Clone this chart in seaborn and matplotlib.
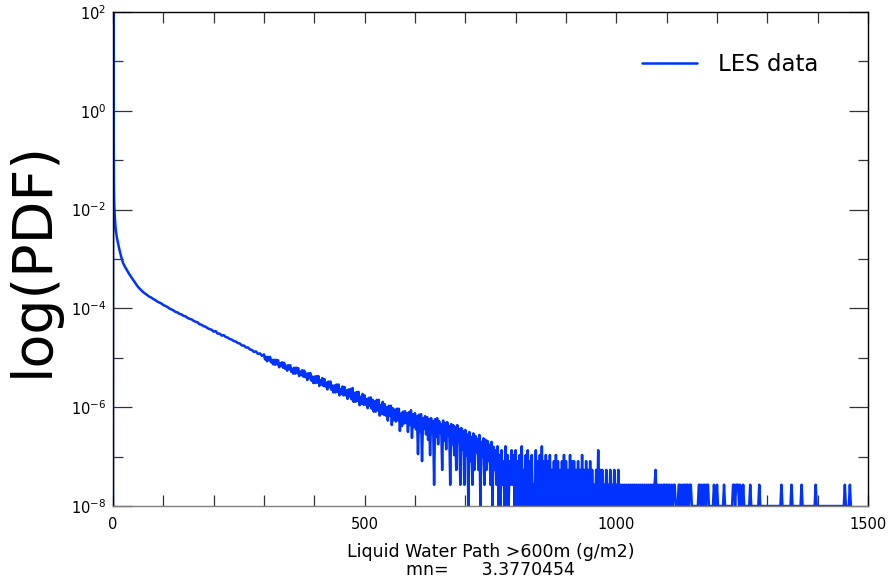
import numpy as np
import pandas as pd
import seaborn as sns
import matplotlib
matplotlib.use("Agg")
import matplotlib.pyplot as plt
from matplotlib.ticker import FixedLocator, FuncFormatter, MultipleLocator, NullFormatter

# spike near zero: liquid water path (g/m2) and log10(pdf)
lwp_head = [0, 0.5, 1, 1.5, 2, 2.5, 3, 4, 5, 6, 8, 10, 13, 16, 20]
logpdf_head = [-8, 2.6, 0.75, -0.6, -1.5, -1.85, -2.0, -2.2, -2.35, -2.45,
               -2.58, -2.68, -2.82, -2.94, -3.08]

# smooth part, every 4 g/m2 from 24 to 296
logpdf_body = [
    -3.16, -3.23, -3.30, -3.36, -3.42, -3.48, -3.54, -3.59, -3.63, -3.67,
    -3.70, -3.73, -3.76, -3.78, -3.81, -3.83, -3.86, -3.88, -3.90, -3.93,
    -3.95, -3.97, -4.00, -4.02, -4.04, -4.07, -4.08, -4.11, -4.12, -4.15,
    -4.16, -4.19, -4.21, -4.22, -4.25, -4.27, -4.28, -4.32, -4.33, -4.36,
    -4.37, -4.40, -4.42, -4.43, -4.47, -4.46, -4.51, -4.51, -4.55, -4.54,
    -4.58, -4.59, -4.62, -4.63, -4.66, -4.67, -4.70, -4.71, -4.75, -4.75,
    -4.79, -4.79, -4.83, -4.84, -4.88, -4.87, -4.92, -4.91, -4.96,
]

# noisy part, every 2 g/m2 from 300 to 758 (-8 = empty bin)
logpdf_noisy = [
    -4.93, -5.03, -4.98, -5.07, -4.98, -5.05, -4.98, -5.09, -5.04, -5.13,
    -5.04, -5.14, -5.04, -5.13, -5.05, -5.19, -5.11, -5.17, -5.09, -5.20,
    -5.10, -5.22, -5.16, -5.26, -5.15, -5.23, -5.15, -5.28, -5.22, -5.32,
    -5.20, -5.32, -5.20, -5.31, -5.21, -5.37, -5.28, -5.35, -5.25, -5.38,
    -5.26, -5.39, -5.32, -5.45, -5.31, -5.41, -5.31, -5.46, -5.38, -5.51,
    -5.38, -5.51, -5.37, -5.50, -5.37, -5.57, -5.45, -5.54, -5.41, -5.57,
    -5.43, -5.58, -5.50, -5.64, -5.48, -5.59, -5.48, -5.65, -5.56, -5.70,
    -5.56, -5.70, -5.54, -5.69, -5.54, -5.76, -5.63, -5.73, -5.58, -5.76,
    -5.59, -5.76, -5.66, -5.83, -5.64, -5.78, -5.63, -5.84, -5.61, -5.89,
    -5.71, -5.89, -5.69, -5.87, -5.69, -5.96, -5.79, -5.93, -5.73, -5.95,
    -5.76, -5.95, -5.84, -6.02, -5.81, -5.97, -5.80, -6.03, -5.85, -6.09,
    -5.88, -6.09, -5.85, -6.06, -5.85, -6.17, -5.96, -6.13, -5.89, -6.15,
    -5.94, -6.17, -6.00, -6.27, -5.97, -6.17, -5.97, -6.36, -6.02, -6.26,
    -6.05, -6.29, -6.03, -6.26, -6.03, -6.48, -6.13, -6.38, -6.09, -6.33,
    -6.08, -6.32, -6.12, -6.50, -6.10, -6.36, -6.06, -6.62, -6.14, -6.40,
    -6.12, -6.45, -6.18, -6.95, -6.15, -6.50, -6.14, -7.09, -6.22, -6.44,
    -6.18, -6.55, -6.20, -6.66, -6.24, -6.97, -6.22, -6.50, -6.28, -7.57,
    -6.24, -6.60, -6.22, -6.75, -6.28, -6.52, -6.34, -7.27, -6.27, -6.68,
    -6.32, -6.85, -6.30, -6.58, -6.38, -7.57, -6.34, -6.75, -6.36, -6.97,
    -6.40, -7.27, -6.36, -6.70, -6.44, -7.57, -6.42, -6.85, -6.48, -7.57,
    -6.46, -6.97, -6.55, -8.00, -6.50, -7.09, -6.60, -7.57, -6.53, -7.27,
    -6.58, -6.92, -6.64, -7.27, -6.56, -8.00, -6.70, -7.00, -6.63, -7.57,
    -6.66, -7.27, -6.68, -7.09, -6.76, -7.57, -6.70, -8.00, -6.80, -7.27,
]

# far tail as bin counts, every 2 g/m2 from 760 to 1466
tail_counts = (
    "5160405130" "6040315140" "5030406020" "4050304010" "5030406030"
    "4030402030" "4030203040" "3020403030" "2030204020" "3020302010"
    "2050202010" "2010201020" "1020101010" "1010101010" "1010101010"
    "1010101012" "01010101" "101101" "0" "1011" "000" "110101" "101101" "1" "00000"
    "00" "1101011011" "00000" "1001" "00000" "010" "0000000" "1101110100" "1000"
    "00" "010" "000000" "01" "000000000000000000000" "10" "0000000" "01" "00000"
    "0000" "10" "00000000000" "01" "000000000000000000000000000" "0" "10" "00" "01" "0"
)
count_unit = 2.7e-8
ymin, ymax = 1e-8, 1e2

lwp_body = np.arange(24, 300, 4)
lwp_noisy = np.arange(300, 760, 2)
counts = np.array([int(c) for c in tail_counts])
lwp_tail = np.arange(760, 760 + 2 * len(counts), 2)

pdf_tail = np.where(counts > 0, counts * count_unit, ymin)
df = pd.DataFrame({
    "lwp": np.concatenate([lwp_head, lwp_body, lwp_noisy, lwp_tail]),
    "pdf": np.concatenate([10.0 ** np.array(logpdf_head), 10.0 ** np.array(logpdf_body),
                           10.0 ** np.array(logpdf_noisy), pdf_tail]),
})

sns.set_style("ticks")
plt.rcParams["font.family"] = ["DejaVu Sans"]
plt.rcParams["text.color"] = "black"
plt.rcParams["axes.labelcolor"] = "black"

fig = plt.figure(figsize=(8.93, 5.81), dpi=100)
ax = fig.add_axes([0.1265, 0.129, 0.8455, 0.8503])

blue = "#0033ff"
sns.lineplot(data=df, x="lwp", y="pdf", color=blue, linewidth=1.8, estimator=None,
             sort=False, label="LES data", ax=ax)

ax.set_yscale("log")
ax.set_xlim(0, 1500)
ax.set_ylim(ymin, ymax)

ax.yaxis.set_major_locator(FixedLocator([1e-8, 1e-6, 1e-4, 1e-2, 1e0, 1e2]))
ax.yaxis.set_minor_locator(FixedLocator([1e-7, 1e-5, 1e-3, 1e-1, 1e1]))
ax.yaxis.set_major_formatter(FuncFormatter(lambda v, p: r"$10^{%d}$" % round(np.log10(v))))
ax.yaxis.set_minor_formatter(NullFormatter())
ax.xaxis.set_major_locator(MultipleLocator(500))
ax.xaxis.set_minor_locator(MultipleLocator(100))

ax.tick_params(which="both", direction="in", top=True, right=True, colors="#333333",
               labelcolor="black", labelsize=10.5, width=0.9)
ax.tick_params(axis="y", which="major", length=14, pad=5)
ax.tick_params(axis="y", which="minor", length=7)
ax.tick_params(axis="x", which="both", length=8, pad=8)

for side in ["top", "right", "left"]:
    ax.spines[side].set_color("black")
    ax.spines[side].set_linewidth(1.0)
ax.spines["bottom"].set_color("#808080")
ax.spines["bottom"].set_linewidth(1.0)

ax.set_ylabel("log(PDF)", fontsize=40)
ax.yaxis.set_label_coords(-0.071, 0.5)
ax.set_xlabel("Liquid Water Path >600m (g/m2)\nmn=      3.3770454", fontsize=12.5,
              linespacing=1.0, labelpad=8)

ax.legend(loc="center right", bbox_to_anchor=(0.949, 0.893), frameon=False,
          fontsize=16.5, handlelength=2.4, handletextpad=0.9, borderpad=0)

fig.savefig("out.png", dpi=100)
